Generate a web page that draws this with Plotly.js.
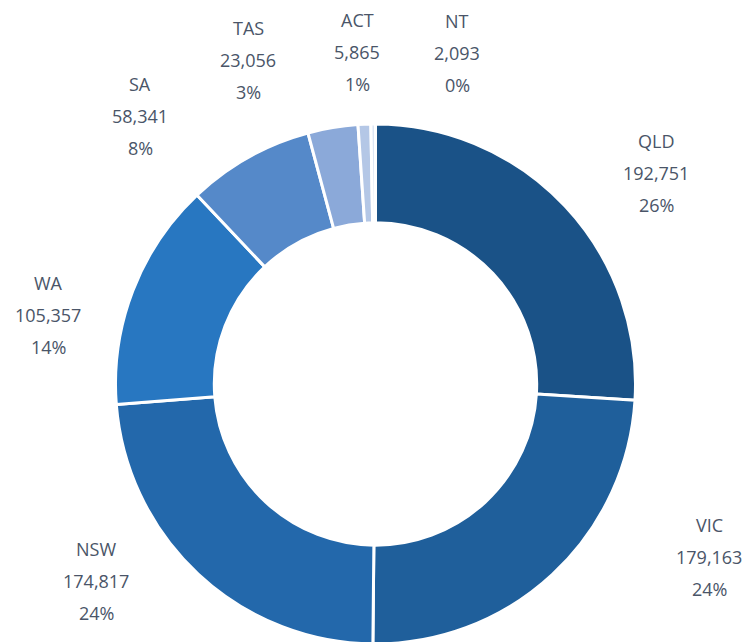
<!DOCTYPE html>
<html>
<head>
<meta charset="utf-8">
<script src="https://cdn.plot.ly/plotly-3.0.1.min.js"></script>
<style>
html,body{margin:0;padding:0;overflow:hidden;background:#fff;}
#chart{width:745px;height:660px;}
</style>
</head>
<body>
<div id="chart"></div>
<script>
// ---- data ----
const states = ["QLD", "VIC", "NSW", "WA", "SA", "TAS", "ACT", "NT"];
const counts = [192751, 179163, 174817, 105357, 58341, 23056, 5865, 2093];

// ---- styling / layout ----
const colors = ["#1a5287", "#1f5f9b", "#2368ab", "#2877c1", "#5589c9", "#8ba9d9", "#b4c7e6", "#dde6f4"];
// centre of the middle line of each outside label, in page pixels
const labelPos = [[656, 173], [709, 557], [96, 581], [48, 315], [140, 116], [248, 60], [357, 52], [457, 53]];
const lineGap = 32;
const W = 745, H = 660, M = {l: 115, r: 109, t: 124, b: 16};
const plotW = W - M.l - M.r, plotH = H - M.t - M.b;
const fx = px => (px - M.l) / plotW;
const fy = py => (H - M.b - py) / plotH;

const total = counts.reduce((a, b) => a + b, 0);
const fmt = n => n.toLocaleString("en-US");

const font = {family: "'Open Sans', sans-serif", size: 18, color: "#4a5568"};
const annotations = [];
states.forEach((s, i) => {
  const lines = [s, fmt(counts[i]), Math.round(counts[i] / total * 100) + "%"];
  lines.forEach((t, k) => {
    annotations.push({
      xref: "paper", yref: "paper",
      x: fx(labelPos[i][0]), y: fy(labelPos[i][1] + (k - 1) * lineGap),
      xanchor: "center", yanchor: "middle",
      text: t, showarrow: false, font: font
    });
  });
});

const trace = {
  type: "pie",
  labels: states,
  values: counts,
  sort: false,
  direction: "clockwise",
  rotation: 0,
  hole: 0.62,
  marker: {colors: colors, line: {color: "#ffffff", width: 3}},
  textinfo: "none",
  hoverinfo: "label+value+percent",
  showlegend: false,
  automargin: false,
  domain: {x: [0, 1], y: [0, 1]}
};

const layout = {
  width: W,
  height: H,
  margin: M,
  paper_bgcolor: "#ffffff",
  plot_bgcolor: "#ffffff",
  showlegend: false,
  annotations: annotations
};

Plotly.newPlot("chart", [trace], layout, {displayModeBar: false, staticPlot: true});
</script>
</body>
</html>
